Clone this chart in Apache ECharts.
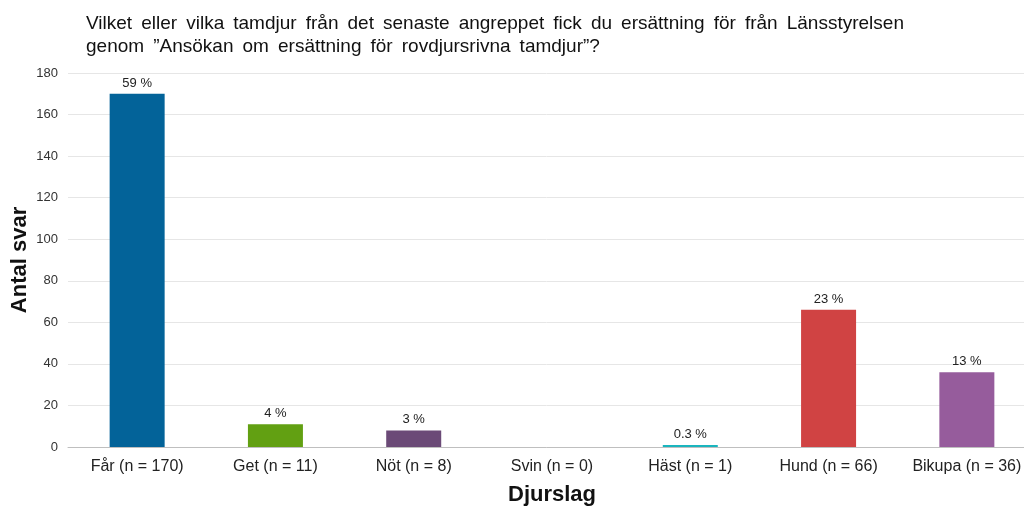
<!DOCTYPE html>
<html>
<head>
<meta charset="utf-8">
<script src="https://cdn.jsdelivr.net/npm/echarts@6/dist/echarts.min.js"></script>
<style>
  html, body { margin: 0; padding: 0; background: #fff; }
  #chart { width: 1024px; height: 506px; }
</style>
</head>
<body>
<div id="chart"></div>
<script>
// data
const categories = ['Får (n = 170)', 'Get (n = 11)', 'Nöt (n = 8)', 'Svin (n = 0)', 'Häst (n = 1)', 'Hund (n = 66)', 'Bikupa (n = 36)'];
const counts = [170, 11, 8, 0, 1, 66, 36];
const percentLabels = ['59 %', '4 %', '3 %', '', '0.3 %', '23 %', '13 %'];
const barColors = ['#036399', '#62a012', '#6b4a77', '#999999', '#1ab5be', '#d04343', '#965c9c'];

const chart = echarts.init(document.getElementById('chart'));
const font = 'Liberation Sans, Arial, sans-serif';

// the original title has wide word gaps: add a thin space after each space
const titleLines = [
  'Vilket eller vilka tamdjur från det senaste angreppet fick du ersättning för från Länsstyrelsen',
  'genom ”Ansökan om ersättning för rovdjursrivna tamdjur”?'
];

chart.setOption({
  animation: false,
  textStyle: { fontFamily: font },
  title: {
    text: titleLines.map(s => s.split(' ').join(' \u2009')).join('\n'),
    left: 81,
    top: 7,
    textStyle: { fontSize: 19, fontWeight: 'normal', color: '#111', lineHeight: 23, fontFamily: font }
  },
  grid: { left: 68, top: 73, width: 968, height: 374, outerBoundsMode: 'none', containLabel: false },
  xAxis: {
    type: 'category',
    data: categories,
    name: 'Djurslag',
    nameLocation: 'middle',
    nameGap: 37,
    nameMoveOverlap: false,
    nameTextStyle: { fontSize: 22, fontWeight: 'bold', color: '#111' },
    axisLine: { lineStyle: { color: '#bfbfbf' } },
    axisTick: { show: false },
    axisLabel: { fontSize: 16, color: '#222', margin: 12, interval: 0, hideOverlap: false }
  },
  yAxis: {
    type: 'value',
    min: 0,
    max: 180,
    interval: 20,
    name: 'Antal svar',
    nameLocation: 'middle',
    nameGap: 37,
    nameMoveOverlap: false,
    nameTextStyle: { fontSize: 22, fontWeight: 'bold', color: '#111' },
    axisLine: { show: false },
    axisTick: { show: false },
    axisLabel: { fontSize: 13, color: '#333', margin: 10 },
    splitLine: { lineStyle: { color: '#e6e6e6' } }
  },
  series: [{
    type: 'bar',
    barWidth: 55,
    data: counts.map((v, i) => ({
      value: v,
      itemStyle: { color: barColors[i] },
      label: { formatter: percentLabels[i] }
    })),
    label: {
      show: true,
      position: 'top',
      distance: 4,
      fontSize: 13,
      color: '#222'
    }
  }]
});
</script>
</body>
</html>
